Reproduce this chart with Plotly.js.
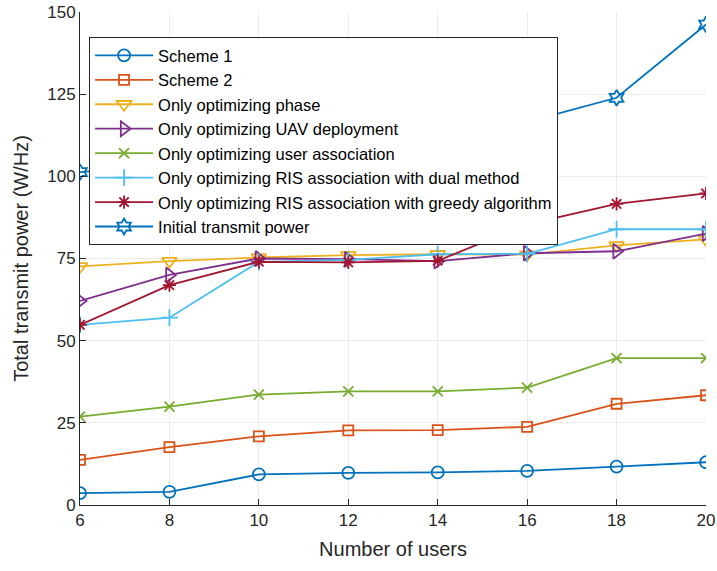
<!DOCTYPE html>
<html>
<head>
<meta charset="utf-8">
<script src="https://cdn.plot.ly/plotly-3.0.1.min.js"></script>
<style>
  html, body { margin: 0; padding: 0; background: #fff; }
  #chart { width: 717px; height: 571px; }
</style>
</head>
<body>
<div id="chart"></div>
<script>
// Number of users on the x axis
const users = [6, 8, 10, 12, 14, 16, 18, 20];

// Total transmit power (W/Hz) for each scheme
const scheme1 = [3.6, 4.0, 9.3, 9.8, 9.9, 10.4, 11.7, 13.0];
const scheme2 = [13.7, 17.6, 20.9, 22.7, 22.8, 23.8, 30.8, 33.4];
const onlyPhase = [72.6, 74.2, 75.3, 76.0, 76.3, 76.2, 79.0, 80.8];
const onlyUav = [62.1, 70.0, 75.0, 74.8, 74.2, 76.6, 77.2, 82.6];
const onlyUserAssoc = [26.9, 29.9, 33.6, 34.6, 34.6, 35.7, 44.7, 44.7];
const onlyRisDual = [54.8, 57.0, 74.0, 74.6, 76.3, 76.4, 83.9, 83.9];
const onlyRisGreedy = [54.8, 66.9, 74.0, 73.8, 74.3, 85.4, 91.6, 94.8];
const initialPower = [101.3, 103.5, 106.0, 108.8, 112.0, 116.6, 123.9, 146.2];

const seriesNames = [
  'Scheme 1',
  'Scheme 2',
  'Only optimizing phase',
  'Only optimizing UAV deployment',
  'Only optimizing user association',
  'Only optimizing RIS association with dual method',
  'Only optimizing RIS association with greedy algorithm',
  'Initial transmit power'
];

const xTicks = [6, 8, 10, 12, 14, 16, 18, 20];
const yTicks = [0, 25, 50, 75, 100, 125, 150];

const seriesData = [scheme1, scheme2, onlyPhase, onlyUav, onlyUserAssoc, onlyRisDual, onlyRisGreedy, initialPower];
const colors = ['#0072BD', '#D95319', '#EDB120', '#7E2F8E', '#77AC30', '#4DBEEE', '#A2142F', '#0072BD'];
const symbols = ['circle-open', 'square-open', 'triangle-down-open', 'triangle-right-open',
                 'x-thin-open', 'cross-thin-open', 'asterisk-open', 'hexagram-open'];
const sizes = [12, 10, 13, 13, 10, 12, 11, 12];

const traces = seriesData.map((ys, i) => ({
  x: users,
  y: ys,
  type: 'scatter',
  mode: 'lines+markers',
  name: seriesNames[i],
  line: { color: colors[i], width: 1.8 },
  marker: {
    symbol: symbols[i],
    size: sizes[i],
    color: colors[i],
    line: { color: colors[i], width: 1.8 }
  }
}));

const layout = {
  width: 717,
  height: 571,
  margin: { l: 80, r: 11, t: 12, b: 66 },
  paper_bgcolor: '#ffffff',
  plot_bgcolor: '#ffffff',
  font: { family: 'Liberation Sans, Arial, sans-serif', color: '#262626' },
  showlegend: true,
  legend: {
    x: 0.0145, y: 0.949, xanchor: 'left', yanchor: 'top',
    bgcolor: '#ffffff',
    bordercolor: '#262626',
    borderwidth: 1,
    font: { size: 16.5, color: '#000000' },
    itemwidth: 58,
    entrywidth: 480,
    entrywidthmode: 'pixels'
  },
  xaxis: {
    range: [6, 20],
    tickvals: xTicks,
    ticktext: xTicks.map(String),
    ticks: 'inside',
    ticklen: 6,
    tickcolor: '#262626',
    showline: true,
    linecolor: '#262626',
    linewidth: 1,
    showgrid: true,
    gridcolor: '#ececec',
    zeroline: false,
    tickfont: { size: 17, color: '#262626' },
    title: { text: 'Number of users', font: { size: 20, color: '#262626' }, standoff: 12 }
  },
  yaxis: {
    range: [0, 150],
    tickvals: yTicks,
    ticktext: yTicks.map(String),
    ticks: 'inside',
    ticklen: 6,
    tickcolor: '#262626',
    showline: true,
    linecolor: '#262626',
    linewidth: 1,
    showgrid: true,
    gridcolor: '#ececec',
    zeroline: false,
    tickfont: { size: 17, color: '#262626' },
    title: { text: 'Total transmit power (W/Hz)', font: { size: 20, color: '#262626' }, standoff: 13 }
  }
};

Plotly.newPlot('chart', traces, layout, { displayModeBar: false, staticPlot: true });
</script>
</body>
</html>
